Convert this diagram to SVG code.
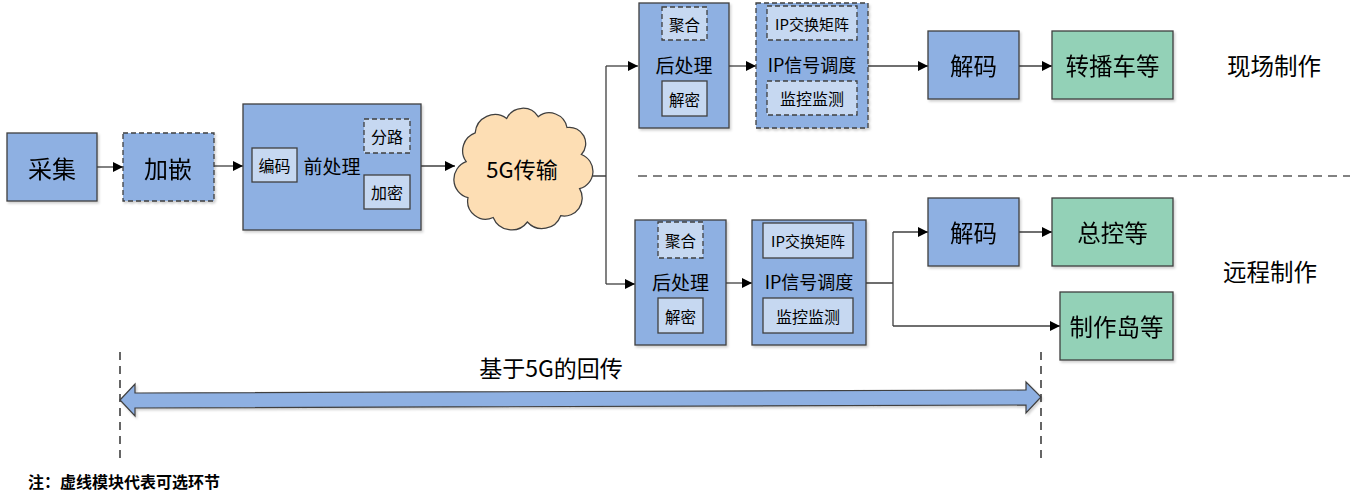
<svg xmlns="http://www.w3.org/2000/svg" width="1356" height="498" viewBox="0 0 1356 498">
<defs>
<marker id="ah" viewBox="0 0 10 10" refX="10" refY="5" markerWidth="10" markerHeight="10" markerUnits="userSpaceOnUse" orient="auto">
<path d="M0,0 L10,5 L0,10 Z" fill="#000"/>
</marker>
<filter id="sh" x="-10%" y="-10%" width="130%" height="130%">
<feDropShadow dx="1.5" dy="2" stdDeviation="1.2" flood-color="#000" flood-opacity="0.18"/>
</filter>
<style>
.blue{fill:#8EB0E2;stroke:#3F3F3F;stroke-width:1.3}
.green{fill:#93D1B7;stroke:#3F3F3F;stroke-width:1.3}
.inner{fill:#C6D8F1;stroke:#3F3F3F;stroke-width:1.3}
.dash{stroke-dasharray:5,3}
.t{font-family:"Noto Sans CJK SC","Microsoft YaHei",sans-serif;fill:#000;text-anchor:middle;dominant-baseline:central}
.conn{fill:none;stroke:#3F3F3F;stroke-width:1.3}
</style>
</defs>

<g id="connectors">
<path class="conn" d="M97,167 H123" marker-end="url(#ah)"/>
<path class="conn" d="M214,166 H243" marker-end="url(#ah)"/>
<path class="conn" d="M421,166 H455" marker-end="url(#ah)"/>
<path class="conn" d="M590,176 H606 M606,66 V284"/>
<path class="conn" d="M606,66 H638" marker-end="url(#ah)"/>
<path class="conn" d="M606,284 H635" marker-end="url(#ah)"/>
<path class="conn" d="M729,66 H756" marker-end="url(#ah)"/>
<path class="conn" d="M868,66 H928" marker-end="url(#ah)"/>
<path class="conn" d="M1019,66 H1052" marker-end="url(#ah)"/>
<path class="conn" d="M726,283 H752" marker-end="url(#ah)"/>
<path class="conn" d="M866,283 H893 M893,232 V326"/>
<path class="conn" d="M893,232 H928" marker-end="url(#ah)"/>
<path class="conn" d="M1019,232 H1052" marker-end="url(#ah)"/>
<path class="conn" d="M893,326 H1060" marker-end="url(#ah)"/>
</g>

<g id="caiji" filter="url(#sh)">
<rect class="blue" x="7" y="133" width="90" height="68"/>
<text class="t" x="52" y="167" font-size="24">采集</text>
</g>

<g id="jiaqian" filter="url(#sh)">
<rect class="blue dash" x="123" y="133" width="91" height="68"/>
<text class="t" x="168" y="167" font-size="24">加嵌</text>
</g>

<g id="qianchuli">
<rect class="blue" x="243" y="104" width="178" height="126" filter="url(#sh)"/>
<text class="t" x="332" y="165" font-size="19">前处理</text>
<rect class="inner" x="252" y="148" width="45" height="34"/>
<text class="t" x="274.5" y="165" font-size="16">编码</text>
<rect class="inner dash" x="364" y="119" width="46" height="34"/>
<text class="t" x="387" y="136" font-size="16">分路</text>
<rect class="inner" x="364" y="175" width="46" height="34"/>
<text class="t" x="387" y="192" font-size="16">加密</text>
</g>

<g id="cloud">
<path transform="translate(522,168) scale(0.9) translate(-522,-167)" d="M460,160 A21 21 0 0 1 470,128 A22 22 0 0 1 505,112 A20 20 0 0 1 540,110 A20 20 0 0 1 572,122 A18 18 0 0 1 588,152 A20 20 0 0 1 586,190 A20 20 0 0 1 565,220 A22 22 0 0 1 528,227 A22 22 0 0 1 490,222 A20 20 0 0 1 462,200 A21 21 0 0 1 460,160 Z" fill="#FDDEB4" stroke="#3F3F3F" stroke-width="1.4"/>
<text class="t" x="522" y="168" font-size="22">5G传输</text>
</g>

<g id="houchuli-top">
<rect class="blue" x="639" y="3" width="90" height="125" filter="url(#sh)"/>
<text class="t" x="684" y="64" font-size="19">后处理</text>
<rect class="inner dash" x="662" y="7" width="45" height="33"/>
<text class="t" x="684.5" y="23.5" font-size="15.5">聚合</text>
<rect class="inner" x="662" y="81" width="45" height="35"/>
<text class="t" x="684.5" y="98.5" font-size="15.5">解密</text>
</g>

<g id="ipdiaodu-top">
<rect class="blue dash" x="756" y="3" width="112" height="125" filter="url(#sh)"/>
<text class="t" x="812" y="64" font-size="18">IP信号调度</text>
<rect class="inner dash" x="767" y="6" width="90" height="34"/>
<text class="t" x="812" y="23" font-size="15">IP交换矩阵</text>
<rect class="inner dash" x="767" y="81" width="90" height="34"/>
<text class="t" x="812" y="98" font-size="16">监控监测</text>
</g>

<g id="jiema-top" filter="url(#sh)">
<rect class="blue" x="928" y="31" width="91" height="68"/>
<text class="t" x="973.5" y="65" font-size="23.5">解码</text>
</g>

<g id="zhuanbo" filter="url(#sh)">
<rect class="green" x="1052" y="31" width="121" height="68"/>
<text class="t" x="1112.5" y="65" font-size="23.5">转播车等</text>
</g>

<g id="label-xianchang">
<text class="t" x="1274" y="65" font-size="23.5">现场制作</text>
</g>

<g id="separator">
<path d="M638,176 H1350" fill="none" stroke="#595959" stroke-width="1.5" stroke-dasharray="9,6"/>
</g>

<g id="houchuli-bottom">
<rect class="blue" x="635" y="220" width="91" height="125" filter="url(#sh)"/>
<text class="t" x="680.5" y="281" font-size="19">后处理</text>
<rect class="inner dash" x="658" y="222" width="45" height="36"/>
<text class="t" x="680.5" y="240" font-size="15.5">聚合</text>
<rect class="inner" x="658" y="298" width="45" height="35"/>
<text class="t" x="680.5" y="315.5" font-size="15.5">解密</text>
</g>

<g id="ipdiaodu-bottom">
<rect class="blue" x="752" y="220" width="114" height="125" filter="url(#sh)"/>
<text class="t" x="809" y="281" font-size="18">IP信号调度</text>
<rect class="inner" x="763" y="223" width="90" height="35"/>
<text class="t" x="808" y="240.5" font-size="15">IP交换矩阵</text>
<rect class="inner" x="763" y="298" width="90" height="35"/>
<text class="t" x="808" y="315.5" font-size="16">监控监测</text>
</g>

<g id="jiema-bottom" filter="url(#sh)">
<rect class="blue" x="928" y="198" width="91" height="68"/>
<text class="t" x="973.5" y="232" font-size="23.5">解码</text>
</g>

<g id="zongkong" filter="url(#sh)">
<rect class="green" x="1052" y="198" width="121" height="68"/>
<text class="t" x="1112.5" y="232" font-size="23.5">总控等</text>
</g>

<g id="zhizuodao" filter="url(#sh)">
<rect class="green" x="1060" y="292" width="113" height="68"/>
<text class="t" x="1116.5" y="326" font-size="23.5">制作岛等</text>
</g>

<g id="label-yuancheng">
<text class="t" x="1270" y="271" font-size="23.5">远程制作</text>
</g>

<g id="backhaul">
<path d="M120,352 V458 M1041,352 V458" fill="none" stroke="#000" stroke-width="1.2" stroke-dasharray="8,6"/>
<polygon points="120,400 135,384 135,393 1026,390 1026,382 1041,397 1026,413 1026,405 135,408 135,416" fill="#8EB0E2" stroke="#3F3F3F" stroke-width="1.2" filter="url(#sh)"/>
<text class="t" x="551" y="367" font-size="23">基于5G的回传</text>
</g>

<g id="note">
<text x="28" y="481" font-family="&quot;Noto Sans CJK SC&quot;,sans-serif" font-size="16" font-weight="bold" fill="#000" dominant-baseline="central">注：虚线模块代表可选环节</text>
</g>
</svg>
